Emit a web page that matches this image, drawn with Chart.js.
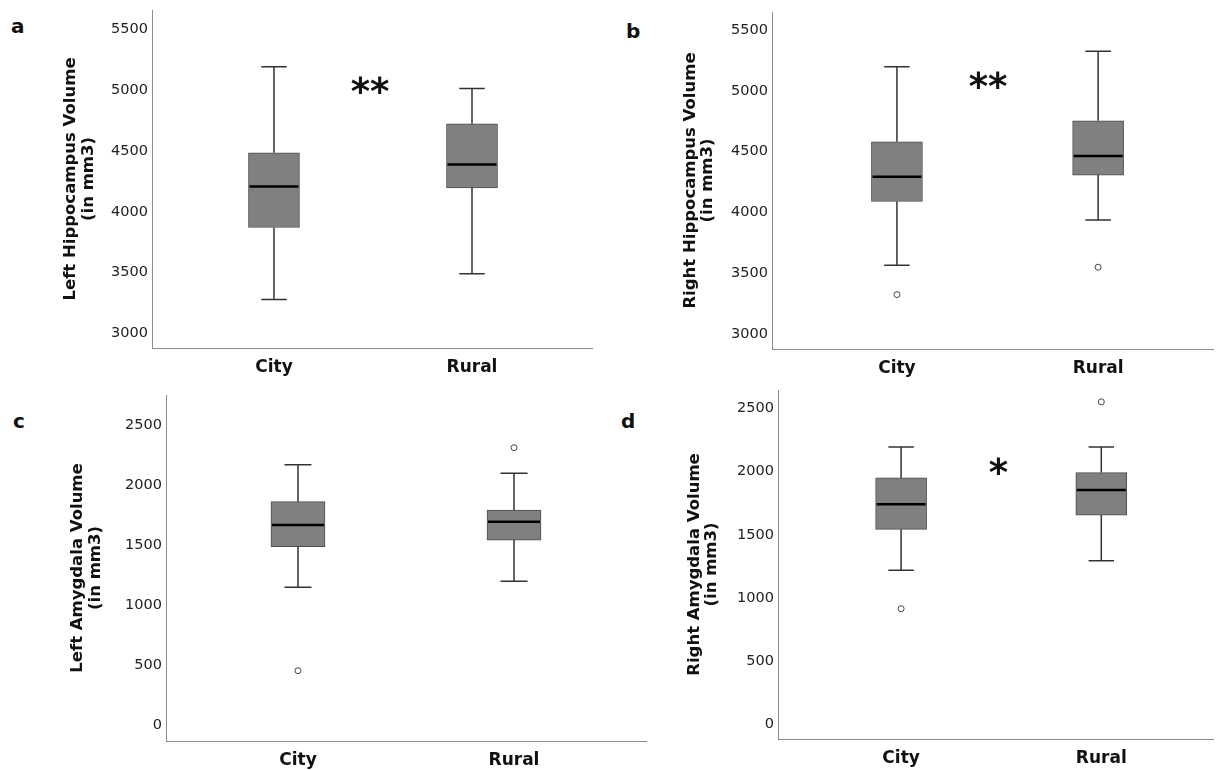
<!DOCTYPE html>
<html>
<head>
<meta charset="utf-8">
<script src="https://cdn.jsdelivr.net/npm/chart.js@4.4.1/dist/chart.umd.min.js"></script>
<style>
  body { margin: 0; background: #fff; width: 1218px; height: 770px; position: relative; overflow: hidden; font-family: "DejaVu Sans", sans-serif; }
  canvas { position: absolute; }
  .panel-letter { position: absolute; font-weight: bold; font-size: 20px; line-height: 20px; color: #111; }
</style>
</head>
<body>
<span class="panel-letter" style="left:11px;top:16px">a</span>
<span class="panel-letter" style="left:626px;top:21px">b</span>
<span class="panel-letter" style="left:13px;top:411px">c</span>
<span class="panel-letter" style="left:621px;top:411px">d</span>

<canvas id="leftHippocampusChart" width="609" height="385" style="left:0;top:0"></canvas>
<canvas id="rightHippocampusChart" width="609" height="385" style="left:609px;top:0"></canvas>
<canvas id="leftAmygdalaChart" width="660" height="385" style="left:0;top:385px"></canvas>
<canvas id="rightAmygdalaChart" width="609" height="385" style="left:609px;top:385px"></canvas>

<script>
const groups = ['City', 'Rural']

// [lower whisker, Q1, median, Q3, upper whisker]
const leftHippocampusCity = [3280, 3872, 4209, 4486, 5193]
const leftHippocampusRural = [3491, 4198, 4390, 4724, 5015]
const rightHippocampusCity = [3567, 4091, 4294, 4581, 5198]
const rightHippocampusRural = [3938, 4308, 4464, 4754, 5325]
const leftAmygdalaCity = [1153, 1492, 1672, 1867, 2175]
const leftAmygdalaRural = [1203, 1547, 1700, 1797, 2103]
const rightAmygdalaCity = [1219, 1543, 1743, 1951, 2196]
const rightAmygdalaRural = [1295, 1656, 1856, 1993, 2196]

// outliers per group (City, Rural)
const rightHippocampusOutliers = [[3326], [3551]]
const leftAmygdalaOutliers = [[458], [2317]]
const rightAmygdalaOutliers = [[914], [2554]]

const hippocampusTicks = [3000, 3500, 4000, 4500, 5000, 5500]
const amygdalaTicks = [0, 500, 1000, 1500, 2000, 2500]

// significance marks: [text, x position between groups, y value]
const leftHippocampusSig = ['**', 0.485, 5040]
const rightHippocampusSig = ['**', 0.453, 5089]
const rightAmygdalaSig = ['*', 0.486, 2044]

Chart.defaults.font.family = '"DejaVu Sans", sans-serif'

function boxWhiskerPlugin(panel) {
  return {
    id: 'boxWhisker',
    afterDatasetsDraw(chart) {
      const { ctx, scales: { x, y } } = chart
      const half = panel.boxWidth / 2
      const cap = panel.boxWidth / 4
      ctx.save()
      panel.stats.forEach((s, i) => {
        const [lo, q1, med, q3, hi] = s
        const cx = x.getPixelForValue(i)
        ctx.strokeStyle = '#333'
        ctx.lineWidth = 1.5
        ctx.beginPath()
        ctx.moveTo(cx, y.getPixelForValue(hi))
        ctx.lineTo(cx, y.getPixelForValue(q3))
        ctx.moveTo(cx, y.getPixelForValue(q1))
        ctx.lineTo(cx, y.getPixelForValue(lo))
        ctx.moveTo(cx - cap, y.getPixelForValue(hi))
        ctx.lineTo(cx + cap, y.getPixelForValue(hi))
        ctx.moveTo(cx - cap, y.getPixelForValue(lo))
        ctx.lineTo(cx + cap, y.getPixelForValue(lo))
        ctx.stroke()

        // median line
        ctx.strokeStyle = '#000'
        ctx.lineWidth = 2.5
        ctx.beginPath()
        ctx.moveTo(cx - half + 1, y.getPixelForValue(med))
        ctx.lineTo(cx + half - 1, y.getPixelForValue(med))
        ctx.stroke()
      })

      if (panel.sig) {
        const [text, sx, sy] = panel.sig
        ctx.fillStyle = '#111'
        ctx.font = 'bold 37px "DejaVu Sans", sans-serif'
        ctx.textAlign = 'center'
        ctx.textBaseline = 'alphabetic'
        const m = ctx.measureText(text)
        const py = y.getPixelForValue(sy) + (m.actualBoundingBoxAscent - m.actualBoundingBoxDescent) / 2
        ctx.fillText(text, x.getPixelForValue(sx), py)
      }
      ctx.restore()
    }
  }
}

function createBoxChart(canvasId, panel) {
  const canvas = document.getElementById(canvasId)
  if (!canvas) {
    console.warn(`Canvas element ${canvasId} not found`)
    return
  }
  const W = canvas.width
  const H = canvas.height
  const [left, top, right, bottom] = panel.area
  const outliers = panel.outliers || [[], []]

  return new Chart(canvas, {
    type: 'bar',
    data: {
      datasets: [
        {
          data: panel.stats.map((s, i) => ({ x: i, y: [s[1], s[3]] })),
          backgroundColor: '#808080',
          borderColor: '#4d4d4d',
          borderWidth: 1,
          borderSkipped: false,
          barThickness: panel.boxWidth,
          grouped: false
        },
        {
          type: 'scatter',
          data: outliers.flatMap((vals, i) => vals.map(v => ({ x: i, y: v }))),
          pointRadius: 3,
          pointBackgroundColor: '#fff',
          pointBorderColor: '#444',
          pointBorderWidth: 1
        }
      ]
    },
    options: {
      responsive: false,
      animation: false,
      layout: { padding: { top: top, right: W - right, left: 0, bottom: 0 } },
      plugins: {
        legend: { display: false },
        tooltip: { enabled: false }
      },
      scales: {
        x: {
          type: 'linear',
          offset: false,
          min: panel.xRange[0],
          max: panel.xRange[1],
          grid: { display: false, drawTicks: false },
          border: { display: true, color: '#8c8c8c', width: 1 },
          afterBuildTicks: s => { s.ticks = groups.map((g, i) => ({ value: i })) },
          afterFit: s => {
            s.height = H - bottom
            s.paddingLeft = 0
            s.paddingRight = 0
          },
          ticks: {
            padding: 9,
            color: '#111',
            font: { size: 17, weight: 'bold' },
            callback: v => groups[v]
          }
        },
        y: {
          min: panel.yRange[0],
          max: panel.yRange[1],
          grid: { display: false, drawTicks: false },
          border: { display: true, color: '#8c8c8c', width: 1 },
          afterBuildTicks: s => { s.ticks = panel.ticks.map(v => ({ value: v })) },
          afterFit: s => {
            s.width = left
            s.paddingTop = 0
            s.paddingBottom = 0
          },
          ticks: {
            padding: 4,
            color: '#222',
            font: { size: 14.5 },
            callback: v => String(v)
          },
          title: {
            display: true,
            text: panel.title,
            color: '#111',
            font: { size: 16.5, weight: 'bold', lineHeight: 1.05 },
            padding: { top: panel.titleX - 8.66, bottom: 0 }
          }
        }
      }
    },
    plugins: [boxWhiskerPlugin(panel)]
  })
}

createBoxChart('leftHippocampusChart', {
  stats: [leftHippocampusCity, leftHippocampusRural],
  ticks: hippocampusTicks,
  sig: leftHippocampusSig,
  title: ['Left Hippocampus Volume', '(in mm3)'],
  area: [152, 10, 592, 348],
  xRange: [-0.616, 1.606],
  yRange: [2881, 5660],
  boxWidth: 51,
  titleX: 71
})

createBoxChart('rightHippocampusChart', {
  stats: [rightHippocampusCity, rightHippocampusRural],
  outliers: rightHippocampusOutliers,
  ticks: hippocampusTicks,
  sig: rightHippocampusSig,
  title: ['Right Hippocampus Volume', '(in mm3)'],
  area: [163, 12, 608, 349],
  xRange: [-0.621, 1.571],
  yRange: [2879, 5648],
  boxWidth: 51,
  titleX: 81.5
})

createBoxChart('leftAmygdalaChart', {
  stats: [leftAmygdalaCity, leftAmygdalaRural],
  outliers: leftAmygdalaOutliers,
  ticks: amygdalaTicks,
  title: ['Left Amygdala Volume', '(in mm3)'],
  area: [166, 10, 646, 356],
  xRange: [-0.611, 1.611],
  yRange: [-128, 2756],
  boxWidth: 54,
  titleX: 78
})

createBoxChart('rightAmygdalaChart', {
  stats: [rightAmygdalaCity, rightAmygdalaRural],
  outliers: rightAmygdalaOutliers,
  ticks: amygdalaTicks,
  sig: rightAmygdalaSig,
  title: ['Right Amygdala Volume', '(in mm3)'],
  area: [169, 4, 609, 354],
  xRange: [-0.615, 1.558],
  yRange: [-119, 2648],
  boxWidth: 51,
  titleX: 85.5
})
</script>
</body>
</html>
